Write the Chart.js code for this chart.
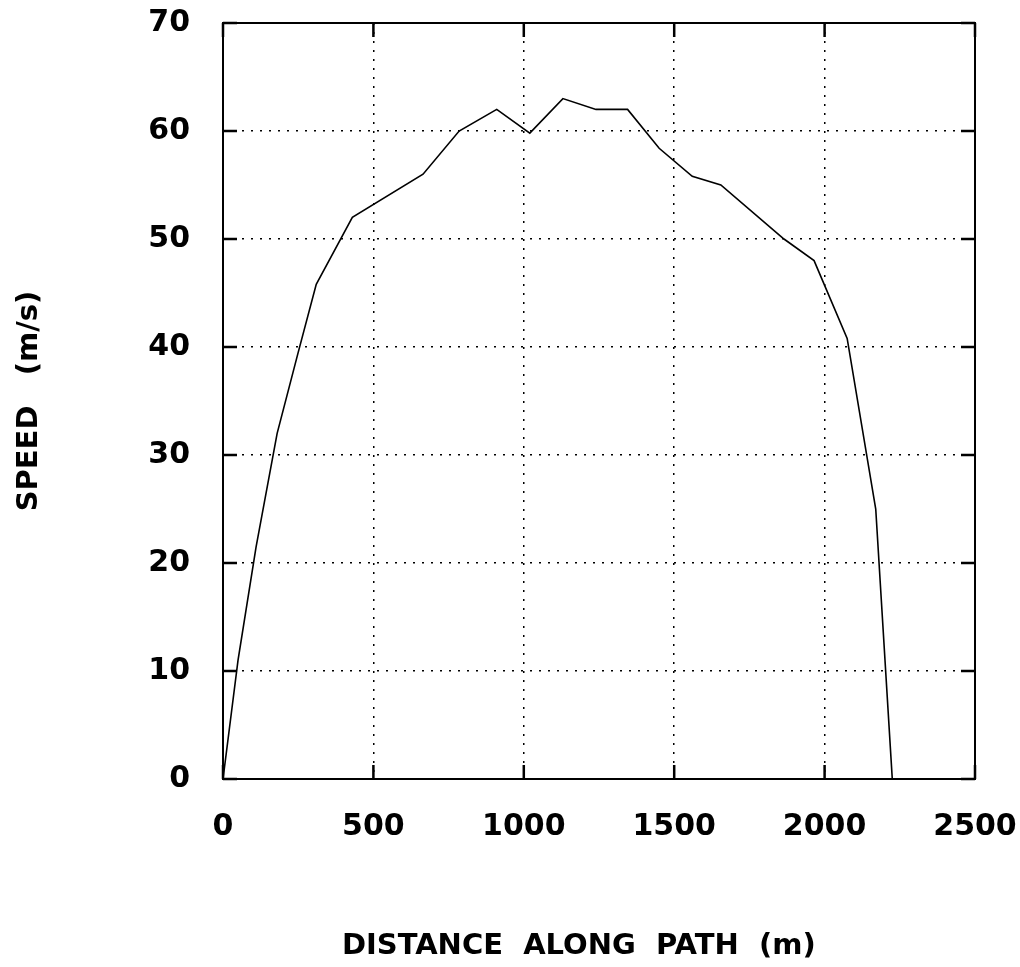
<!DOCTYPE html>
<html>
<head>
<meta charset="utf-8">
<title>Speed along path</title>
<script src="https://cdn.jsdelivr.net/npm/chart.js@4.4.1/dist/chart.umd.min.js"></script>
<style>
    html, body { margin: 0; padding: 0; background: #fff; }
    canvas { display: block; }
</style>
</head>
<body>
<canvas id="speedChart" width="1020" height="967"></canvas>
<script>
// distance along path (m) and speed (m/s)
const distance = [0, 50, 110, 180, 250, 310, 430, 665, 785, 910, 1020, 1130, 1240, 1345, 1450, 1560, 1655, 1865, 1965, 2075, 2170, 2225];
const speed    = [0, 11, 21.5, 32, 39.5, 45.8, 52, 56, 60, 62, 59.8, 63, 62, 62, 58.4, 55.8, 55, 50, 48, 40.8, 25, 0];

const xTicks = [0, 500, 1000, 1500, 2000, 2500];
const yTicks = [0, 10, 20, 30, 40, 50, 60, 70];

const points = distance.map((d, i) => ({ x: d, y: speed[i] }));

// frame round the plot area plus the short inner tick marks
const framePlugin = {
    id: 'frame',
    afterDraw(chart) {
        const { ctx, chartArea: a, scales } = chart;
        const len = 14;
        ctx.save();
        ctx.strokeStyle = '#000';
        ctx.lineWidth = 2;
        ctx.strokeRect(a.left, a.top, a.right - a.left, a.bottom - a.top);
        ctx.lineWidth = 2.5;
        ctx.beginPath();
        yTicks.forEach(v => {
            const y = scales.y.getPixelForValue(v);
            ctx.moveTo(a.left, y); ctx.lineTo(a.left + len, y);
            ctx.moveTo(a.right, y); ctx.lineTo(a.right - len, y);
        });
        xTicks.forEach(v => {
            const x = scales.x.getPixelForValue(v);
            ctx.moveTo(x, a.bottom); ctx.lineTo(x, a.bottom - len);
            ctx.moveTo(x, a.top); ctx.lineTo(x, a.top + len);
        });
        ctx.stroke();
        ctx.restore();
    }
};

const tickFont = { family: 'DejaVu Sans', size: 30, weight: 'bold' };
const titleFont = { family: 'DejaVu Sans', size: 29, weight: 'bold' };

new Chart(document.getElementById('speedChart').getContext('2d'), {
    type: 'scatter',
    data: {
        datasets: [{
            data: points,
            showLine: true,
            borderColor: '#000',
            borderWidth: 1.6,
            pointRadius: 0,
            tension: 0,
            fill: false
        }]
    },
    options: {
        responsive: false,
        animation: false,
        devicePixelRatio: 1,
        layout: { padding: { top: 23, right: 45, bottom: 0, left: 0 } },
        plugins: {
            legend: { display: false },
            tooltip: { enabled: false }
        },
        scales: {
            x: {
                type: 'linear',
                min: 0,
                max: 2500,
                afterBuildTicks: s => { s.ticks = xTicks.map(v => ({ value: v })); },
                afterFit: s => { s.height = 188; s.paddingLeft = 0; s.paddingRight = 0; },
                ticks: { color: '#000', font: tickFont, padding: 30, maxRotation: 0, callback: v => String(v) },
                grid: { color: '#000', lineWidth: 1.5, drawTicks: false },
                border: { display: true, color: '#000', width: 2, dash: [2, 7] },
                title: {
                    display: true,
                    text: 'DISTANCE  ALONG  PATH  (m)    ',
                    color: '#000',
                    font: titleFont,
                    padding: { top: 0, bottom: 3 }
                }
            },
            y: {
                min: 0,
                max: 70,
                afterBuildTicks: s => { s.ticks = yTicks.map(v => ({ value: v })); },
                afterFit: s => { s.width = 223; s.paddingTop = 0; s.paddingBottom = 0; },
                ticks: { color: '#000', font: tickFont, padding: 33, callback: v => String(v) },
                grid: { color: '#000', lineWidth: 1.5, drawTicks: false },
                border: { display: true, color: '#000', width: 2, dash: [2, 7] },
                title: {
                    display: true,
                    text: 'SPEED   (m/s)',
                    color: '#000',
                    font: titleFont,
                    padding: { top: 12, bottom: 0 }
                }
            }
        }
    },
    plugins: [framePlugin]
});
</script>
</body>
</html>
